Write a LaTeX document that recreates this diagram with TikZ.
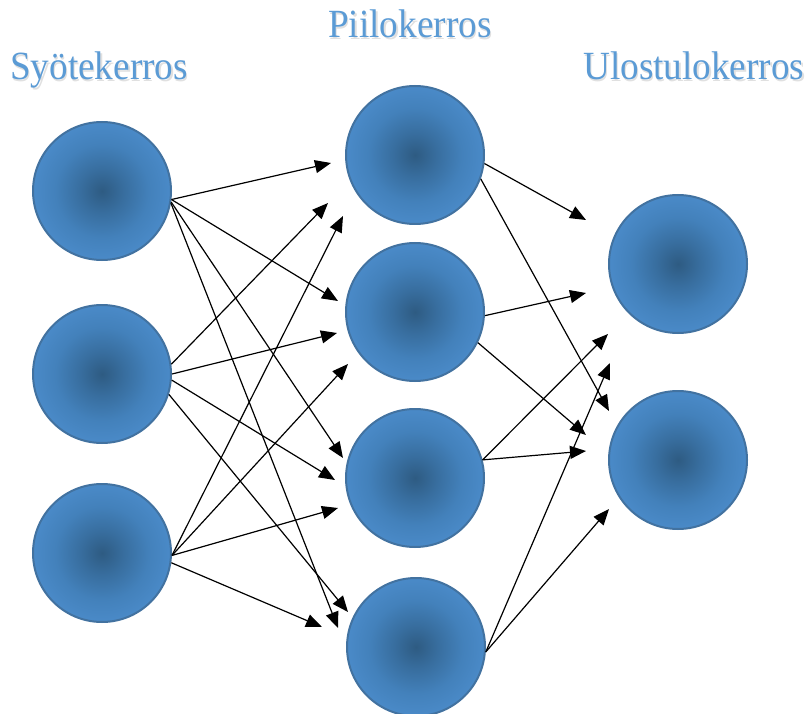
\documentclass[tikz,border=0pt]{standalone}
\usepackage{fontspec}
\setmainfont{Liberation Serif}
\usetikzlibrary{arrows.meta}
\definecolor{ballcore}{HTML}{2E5B82}
\definecolor{ballmid}{HTML}{386E9F}
\definecolor{ballouter}{HTML}{4381BB}
\definecolor{balledge}{HTML}{4A8AC8}
\definecolor{ballrim}{HTML}{4272A0}
\definecolor{titleblue}{HTML}{5B9BD5}
% the inner 50bp square of a shading fills the shaded path, so 25bp is the rim
\pgfdeclareradialshading{ball}{\pgfpoint{0bp}{0bp}}{color(0bp)=(ballcore); color(8bp)=(ballmid); color(17bp)=(ballouter); color(25bp)=(balledge); color(50bp)=(balledge)}
\tikzset{
  neuron/.style={circle, minimum size=138pt, inner sep=0pt, shade, shading=ball, draw=ballrim, line width=2pt},
  link/.style={black, line width=1.2pt, -{Triangle[length=16pt,width=13pt]}},
  layertitle/.style={text=titleblue, inner sep=0pt, anchor=base west, font=\fontsize{40}{44}\selectfont},
  layershadow/.style={text=black!35, opacity=0.35, inner sep=0pt, anchor=base west, font=\fontsize{40}{44}\selectfont}
}
\newcommand{\narrowtext}[1]{\scalebox{0.93}[1]{#1}}
\begin{document}
\begin{tikzpicture}[x=1pt, y=-1pt]
\useasboundingbox (0,0) rectangle (806,714);

% layer titles
\node[layershadow] at (11.5,81.5) {\narrowtext{Syötekerros}};
\node[layershadow] at (329.5,39.5) {\narrowtext{Piilokerros}};
\node[layershadow] at (584.5,81.5) {\narrowtext{Ulostulokerros}};
\node[layertitle] (tin) at (10,80) {\narrowtext{Syötekerros}};
\node[layertitle] (thid) at (328,38) {\narrowtext{Piilokerros}};
\node[layertitle] (tout) at (583,80) {\narrowtext{Ulostulokerros}};

% input layer
\node[neuron] (i1) at (102,191) {};
\node[neuron] (i2) at (102,374) {};
\node[neuron] (i3) at (102,553) {};
% hidden layer
\node[neuron] (h1) at (415,155) {};
\node[neuron] (h2) at (415,312) {};
\node[neuron] (h3) at (415,478) {};
\node[neuron] (h4) at (416,647) {};
% output layer
\node[neuron] (o1) at (678,264) {};
\node[neuron] (o2) at (678,460) {};

% arrow tips (the arrows stop short of the circles)
\coordinate (i1h1) at (331,163);
\coordinate (i2h1) at (328,203);
\coordinate (i3h1) at (343,216);
\coordinate (i1h2) at (338,301);
\coordinate (i2h2) at (337,333);
\coordinate (i3h2) at (348,364);
\coordinate (i1h3) at (343,458);
\coordinate (i2h3) at (335,480);
\coordinate (i3h3) at (338,508);
\coordinate (i1h4) at (338,628);
\coordinate (i2h4) at (348,612);
\coordinate (i3h4) at (322,627);
\coordinate (h1o1) at (586,220);
\coordinate (h1o2) at (609,411);
\coordinate (h2o1) at (586,293);
\coordinate (h2o2) at (586,435);
\coordinate (h3o1) at (608,334);
\coordinate (h3o2) at (586,451);
\coordinate (h4o1) at (610,363);
\coordinate (h4o2) at (609,509);

% input -> hidden
\draw[link] (i1.-7) -- (i1h1);
\draw[link] (i1.-7) -- (i1h2);
\draw[link] (i1.-9) -- (i1h3);
\draw[link] (i1.-10) -- (i1h4);
\draw[link] (i2.8) -- (i2h1);
\draw[link] (i2.0) -- (i2h2);
\draw[link] (i2.-5) -- (i2h3);
\draw[link] (i2.-17) -- (i2h4);
\draw[link] (i3.-2) -- (i3h1);
\draw[link] (i3.-2) -- (i3h2);
\draw[link] (i3.-2) -- (i3h3);
\draw[link] (i3.-8) -- (i3h4);

% hidden -> output
\draw[link] (h1.-7) -- (h1o1);
\draw[link] (h1.-20) -- (h1o2);
\draw[link] (h2.-3) -- (h2o1);
\draw[link] (h2.-26) -- (h2o2);
\draw[link] (h3.15) -- (h3o1);
\draw[link] (h3.15) -- (h3o2);
\draw[link] (h4.-4) -- (h4o1);
\draw[link] (h4.-4) -- (h4o2);
\end{tikzpicture}
\end{document}
